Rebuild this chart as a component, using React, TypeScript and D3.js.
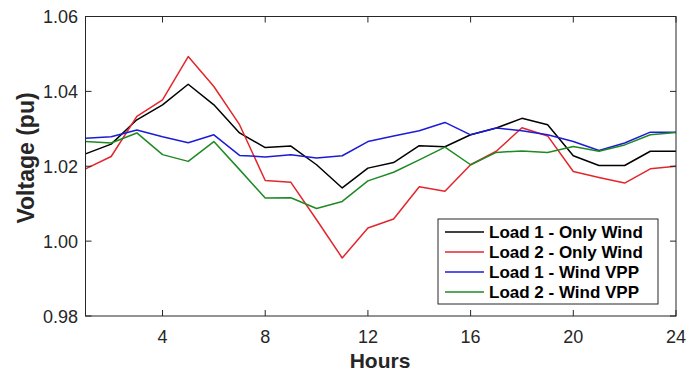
import * as d3 from "d3";

const hours = d3.range(1, 25);
const load1Only = [1.0233, 1.0259, 1.0324, 1.0364, 1.0419, 1.0364, 1.0289, 1.025, 1.0254, 1.0204, 1.0142, 1.0195, 1.021, 1.0255, 1.0252, 1.0284, 1.0302, 1.0328, 1.0311, 1.0228, 1.0202, 1.0202, 1.024, 1.024];
const load2Only = [1.0193, 1.0226, 1.0333, 1.0377, 1.0493, 1.0413, 1.0311, 1.0162, 1.0157, 1.0057, 0.9955, 1.0035, 1.0059, 1.0145, 1.0133, 1.0204, 1.024, 1.0303, 1.0281, 1.0186, 1.017, 1.0155, 1.0193, 1.02];
const load1Vpp = [1.0275, 1.0279, 1.0297, 1.0279, 1.0263, 1.0284, 1.0229, 1.0225, 1.0231, 1.0222, 1.0228, 1.0266, 1.0281, 1.0295, 1.0317, 1.0284, 1.0302, 1.0295, 1.0284, 1.0266, 1.0242, 1.0262, 1.0291, 1.0291];
const load2Vpp = [1.0266, 1.0262, 1.0289, 1.0231, 1.0213, 1.0266, 1.0191, 1.0115, 1.0116, 1.0087, 1.0106, 1.0161, 1.0184, 1.0217, 1.0251, 1.0204, 1.0237, 1.0241, 1.0237, 1.0253, 1.024, 1.0257, 1.0284, 1.029];
const xTicks = [4, 8, 12, 16, 20, 24];
const yTicks = [0.98, 1.0, 1.02, 1.04, 1.06];

const seriesNames = ["Load 1 - Only Wind", "Load 2 - Only Wind", "Load 1 - Wind VPP", "Load 2 - Wind VPP"];
const seriesData = [load1Only, load2Only, load1Vpp, load2Vpp];
const seriesColors = ["#000000", "#e3262b", "#1c1cd8", "#1f8a24"];

const W = 692;
const H = 374;
const axisColor = "#262626";

export default function App() {
  const x = d3.scaleLinear().domain([1, 24]).range([85.5, 676]);
  const y = d3.scaleLinear().domain([0.98, 1.06]).range([316, 16.5]);
  const line = d3
    .line<number>()
    .x((_, i) => x(hours[i]))
    .y((d) => y(d));

  const [x0, x1] = x.range();
  const [y0, y1] = y.range();

  // legend box
  const lg = { left: 438, top: 219, right: 658, bottom: 304 };

  return (
    <svg width={W} height={H} style={{ position: "absolute", left: 0, top: 0, background: "#fff" }} fontFamily="Arial, 'Liberation Sans', sans-serif">
      <rect x={0} y={0} width={W} height={H} fill="#fff" />
      {seriesData.map((s, i) => (
        <path key={i} d={line(s) || ""} fill="none" stroke={seriesColors[i]} strokeWidth={1.5} strokeLinejoin="round" />
      ))}

      {/* box */}
      <rect x={x0} y={y1} width={x1 - x0} height={y0 - y1} fill="none" stroke={axisColor} strokeWidth={1} />

      {/* x ticks */}
      {xTicks.map((t) => (
        <g key={t}>
          <line x1={x(t)} x2={x(t)} y1={y0} y2={y0 - 6} stroke={axisColor} />
          <line x1={x(t)} x2={x(t)} y1={y1} y2={y1 + 6} stroke={axisColor} />
          <text x={x(t)} y={343} textAnchor="middle" fontSize={18} fill={axisColor}>
            {t}
          </text>
        </g>
      ))}

      {/* y ticks */}
      {yTicks.map((t) => (
        <g key={t}>
          <line x1={x0} x2={x0 + 6} y1={y(t)} y2={y(t)} stroke={axisColor} />
          <line x1={x1} x2={x1 - 6} y1={y(t)} y2={y(t)} stroke={axisColor} />
          <text x={78} y={y(t) + 6.5} textAnchor="end" fontSize={18} fill={axisColor}>
            {d3.format(".2f")(t)}
          </text>
        </g>
      ))}

      {/* axis labels */}
      <text x={380} y={368} textAnchor="middle" fontSize={21} fontWeight="bold" fill={axisColor}>
        Hours
      </text>
      <text transform="translate(34,158) rotate(-90)" textAnchor="middle" fontSize={23} fontWeight="bold" fill={axisColor}>
        Voltage (pu)
      </text>

      {/* legend */}
      <rect x={lg.left} y={lg.top} width={lg.right - lg.left} height={lg.bottom - lg.top} fill="#fff" stroke={axisColor} strokeWidth={1} />
      {seriesNames.map((n, i) => {
        const ry = 232 + i * 20;
        return (
          <g key={n}>
            <line x1={445} x2={484} y1={ry} y2={ry} stroke={seriesColors[i]} strokeWidth={1.5} />
            <text x={489} y={ry + 6} fontSize={17} fontWeight="bold" fill="#000">
              {n}
            </text>
          </g>
        );
      })}
    </svg>
  );
}
